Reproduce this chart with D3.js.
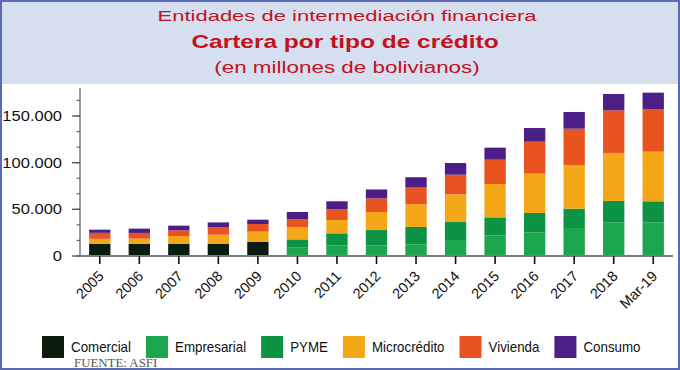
<!DOCTYPE html>
<html>
<head>
<meta charset="utf-8">
<script src="https://cdn.jsdelivr.net/npm/d3@7"></script>
<style>
  html, body { margin: 0; padding: 0; background: #fff; }
  svg { display: block; font-family: "Liberation Sans", Arial, sans-serif; }
</style>
</head>
<body>
<svg id="chart" width="680" height="370"></svg>
<script>
// ---------- data (millones de bolivianos) ----------
const categories = ["2005","2006","2007","2008","2009","2010","2011","2012","2013","2014","2015","2016","2017","2018","Mar-19"];
const comercial    = [13100,12900,13200,13200,15000,0,0,0,0,0,0,0,0,0,0];
const empresarial  = [0,0,0,0,0,8900,11400,11400,12500,17100,22100,25400,30000,36100,36100];
const pyme         = [0,0,0,0,0,8900,12900,16400,18600,19300,19300,20700,20700,22900,22500];
const microcredito = [5300,5700,8200,9600,11100,13200,14300,19300,24300,29600,35700,42100,46800,51400,53200];
const vivienda     = [6400,6100,6100,8200,8200,8200,11400,14600,17900,21100,26100,34300,38900,45700,45700];
const consumo      = [3400,4600,5000,5000,4600,7900,8600,9600,11100,12500,12900,14600,17900,17500,17500];
const seriesNames  = ["Comercial","Empresarial","PYME","Microcrédito","Vivienda","Consumo"];
const seriesColors = ["#0a1c0e","#1ca64e","#0c9444","#f5a817","#e9531f","#4b1f85"];
const yTickValues  = [0,50000,100000,150000];
const titleLines   = ["Entidades de intermediación financiera","Cartera por tipo de crédito","(en millones de bolivianos)"];
const sourceText   = "FUENTE: ASFI";

const seriesValues = [comercial, empresarial, pyme, microcredito, vivienda, consumo];
const rows = categories.map((c, i) => {
  const r = { cat: c };
  seriesNames.forEach((n, k) => r[n] = seriesValues[k][i]);
  return r;
});

const svg = d3.select("#chart");
const W = 680, H = 370;

// background panels
svg.append("rect").attr("x",0).attr("y",0).attr("width",W).attr("height",H).attr("fill","#ffffff");
svg.append("rect").attr("x",0).attr("y",0).attr("width",W).attr("height",84).attr("fill","#d6dff0");

// titles (horizontally stretched like the source)
const red = "#c2121c";
const tspecs = [
  {y:21, size:15.5, weight:"normal", sx:1.42, cx:347},
  {y:48, size:18, weight:"bold", sx:1.36, cx:345},
  {y:73, size:16.5, weight:"normal", sx:1.36, cx:347}
];
titleLines.forEach((t, i) => {
  const s = tspecs[i];
  svg.append("text")
    .attr("transform", `translate(${s.cx},${s.y}) scale(${s.sx},1)`)
    .attr("text-anchor","middle")
    .attr("fill", red)
    .attr("font-size", s.size)
    .attr("font-weight", s.weight)
    .text(t);
});

// scales
const x = d3.scaleBand().domain(categories).range([80, 673]).paddingInner(0.46).paddingOuter(0.23);
const y = d3.scaleLinear().domain([0, 180000]).range([256, 88]);

// stacked bars
const stack = d3.stack().keys(seriesNames)(rows);
const color = d3.scaleOrdinal().domain(seriesNames).range(seriesColors);
svg.append("g").selectAll("g").data(stack).join("g")
  .attr("fill", d => color(d.key))
  .selectAll("rect").data(d => d).join("rect")
  .attr("x", d => x(d.data.cat))
  .attr("width", x.bandwidth())
  .attr("y", d => y(d[1]))
  .attr("height", d => Math.max(0, y(d[0]) - y(d[1])));

// y axis
const fmt = d3.formatLocale({decimal: ",", thousands: ".", grouping: [3], currency: ["", ""]}).format(",d");
const yAxisG = svg.append("g");
yAxisG.append("line").attr("x1",80).attr("x2",80).attr("y1",88).attr("y2",256)
  .attr("stroke","#7a7a7a").attr("stroke-width",1.5);
const minorTicks = d3.range(0, 180000, 50000/3);
yAxisG.selectAll("line.minor").data(minorTicks).join("line").attr("class","minor")
  .attr("x1",76.5).attr("x2",80).attr("y1",d=>y(d)).attr("y2",d=>y(d))
  .attr("stroke","#666").attr("stroke-width",1.2);
yAxisG.selectAll("line.major").data(yTickValues).join("line").attr("class","major")
  .attr("x1",72).attr("x2",80).attr("y1",d=>y(d)).attr("y2",d=>y(d))
  .attr("stroke","#555").attr("stroke-width",1.4);
yAxisG.selectAll("text").data(yTickValues).join("text")
  .attr("transform", d => `translate(62,${y(d)}) scale(1.18,1)`)
  .attr("dy","0.36em")
  .attr("text-anchor","end")
  .attr("font-size",14)
  .attr("fill","#111")
  .text(d => fmt(d));

// x axis
const xAxisG = svg.append("g");
xAxisG.append("line").attr("x1",80).attr("x2",673).attr("y1",256).attr("y2",256)
  .attr("stroke","#7a7a7a").attr("stroke-width",2);
xAxisG.selectAll("line.tick").data(categories).join("line").attr("class","tick")
  .attr("x1", d => x(d) + x.bandwidth()/2).attr("x2", d => x(d) + x.bandwidth()/2)
  .attr("y1",256).attr("y2",264)
  .attr("stroke","#111").attr("stroke-width",1.6);
xAxisG.selectAll("text").data(categories).join("text")
  .attr("transform", d => `translate(${x(d) + x.bandwidth()/2 + 5},${277}) rotate(-45)`)
  .attr("text-anchor","end")
  .attr("font-size",14.5)
  .attr("fill","#111")
  .text(d => d);

// legend
const lg = svg.append("g");
let lx = 42;
const lsx = 0.92;
seriesNames.forEach((n, i) => {
  lg.append("rect").attr("x",lx).attr("y",336).attr("width",22).attr("height",22)
    .attr("fill", seriesColors[i]);
  const tx = lx + 29;
  const t = lg.append("text")
    .attr("transform", `translate(${tx},352) scale(${lsx},1)`)
    .attr("font-size",14.5).attr("fill","#111").text(n);
  lx = tx + t.node().getComputedTextLength() * lsx + 15;
});

// source
svg.append("text")
  .attr("transform","translate(74,367) scale(1.12,1)")
  .attr("font-family","'Liberation Serif', 'Times New Roman', serif")
  .attr("font-size",11.5).attr("fill","#555")
  .text(sourceText);

// outer border
svg.append("rect").attr("x",1).attr("y",1).attr("width",W-2).attr("height",H-2)
  .attr("fill","none").attr("stroke","#5a6ab4").attr("stroke-width",2);
</script>
</body>
</html>
